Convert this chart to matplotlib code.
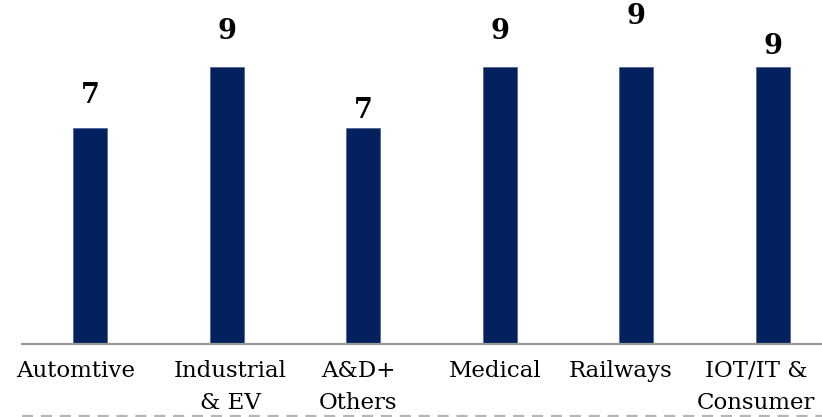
import matplotlib
matplotlib.use("Agg")
import matplotlib.pyplot as plt
from matplotlib.lines import Line2D
from matplotlib.transforms import ScaledTranslation

categories = ["Automtive", "Industrial\n& EV", "A&D+\nOthers", "Medical", "Railways", "IOT/IT &\nConsumer"]
values = [7, 9, 7, 9, 9, 9]

# vertical distance (pixels) of each value label's centre above its bar
label_offsets = [33, 35, 18, 35, 50, 20]
# horizontal nudge (pixels) of each category label from its bar centre
tick_shifts = [-14, 4, -5, -5, -16, -17]

BAR_COLOR = "#03215E"
W, H, DPI = 822, 417, 100

fig = plt.figure(figsize=(W / DPI, H / DPI), dpi=DPI)
ax_left, ax_bottom = 21.7, 417 - 343.7
ax_h = 330.0
ax = fig.add_axes([ax_left / W, ax_bottom / H, (W - ax_left) / W, ax_h / H])

px_per_cat = 136.6
px_per_unit = 30.8
x = list(range(len(categories)))
ax.bar(x, values, width=34 / px_per_cat, color=BAR_COLOR, edgecolor="#3a5288", linewidth=0.4, zorder=2)
ax.set_xlim(-0.5, -0.5 + (W - ax_left) / px_per_cat)
ax.set_ylim(0, ax_h / px_per_unit)

for xi, v, off in zip(x, values, label_offsets):
    ax.annotate(str(v), (xi, v), xytext=(0, off), textcoords="offset pixels",
                ha="center", va="center", fontsize=19.5, fontweight="bold",
                family="DejaVu Serif", color="black", annotation_clip=False)

ax.set_xticks(x)
ax.set_xticklabels(categories, family="DejaVu Serif", fontsize=16.5, linespacing=1.62)
ax.tick_params(axis="x", length=0, pad=11.5)
for lbl, dx in zip(ax.get_xticklabels(), tick_shifts):
    lbl.set_transform(lbl.get_transform() + ScaledTranslation(dx / DPI, 0, fig.dpi_scale_trans))
ax.set_yticks([])
for side in ("left", "right", "top"):
    ax.spines[side].set_visible(False)
ax.spines["bottom"].set_color("#999999")
ax.spines["bottom"].set_linewidth(1.6)

# dashed rule along the bottom edge
fig.add_artist(Line2D([ax_left / W, 1.0], [1 - 416 / H, 1 - 416 / H], transform=fig.transFigure,
                      color="#b5b5b5", linewidth=1.6, linestyle=(0, (5, 3.5))))

fig.savefig("out.png", dpi=DPI)
